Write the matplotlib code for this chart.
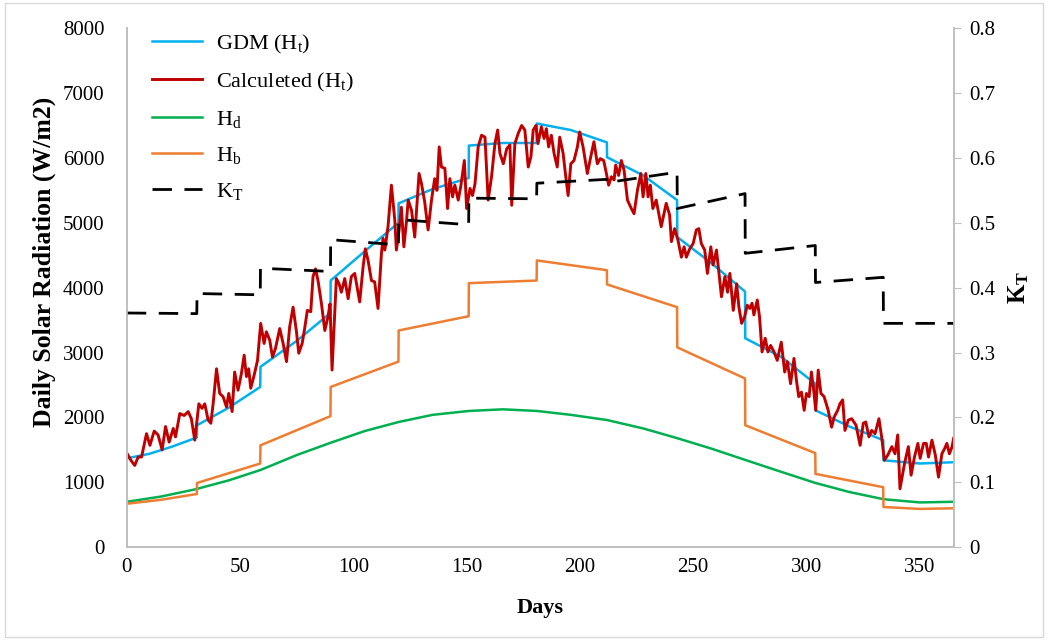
import matplotlib
matplotlib.use("Agg")
import matplotlib.pyplot as plt
from matplotlib.patches import Rectangle

plt.rcParams['font.family'] = ['Liberation Serif', 'DejaVu Serif']
plt.rcParams['mathtext.fontset'] = 'custom'
plt.rcParams['mathtext.rm'] = 'Liberation Serif'
plt.rcParams['mathtext.it'] = 'Liberation Serif:italic'
plt.rcParams['mathtext.bf'] = 'Liberation Serif:bold'

# GDM (Ht): monthly pieces (start, mid, end of each month)
gdm_days = [0, 10, 20, 30.9, 31, 45, 58.9, 59, 75, 89.9, 90, 105, 119.9, 120, 135, 150.9,
            151, 166, 180.9, 181, 196, 211.9, 212, 228, 242.9, 243, 258, 272.9, 273, 289, 303.9,
            304, 319, 333.9, 334, 350, 365]
gdm_vals = [1370, 1440, 1550, 1690, 1880, 2150, 2470, 2780, 3180, 3610, 4110, 4560, 5000, 5300, 5520, 5690,
            6190, 6230, 6230, 6530, 6430, 6240, 6010, 5730, 5350, 4780, 4380, 3940, 3220, 2930, 2520,
            2110, 1860, 1650, 1340, 1290, 1310]

# Calculated (Ht)
calc_days = [0, 1.8, 3.5, 5, 6.5, 8.7, 10.2, 12.1, 13.8, 15.6, 17.1, 18.7, 20.5, 21.5, 23.4, 25.3, 27.1,
             28.5, 30, 31.8, 33.2, 34.4, 35.9, 37.1, 38.1, 39.6, 41, 42.5, 44, 45, 46.5, 47.6, 49.1,
             50.6, 51.8, 52.8, 53.8, 54.7, 56.2, 57.7, 59.1, 60.6, 61.6, 63.1, 64.3, 65.6, 67.5, 69,
             70.5, 71.9, 73.4, 74.9, 75.9, 77.4, 78.5, 79.7, 81.2, 82.2, 83.3, 84.4, 85.9, 87.4, 88.8,
             89.7, 90.6, 92.5, 93.7, 94.7, 96.2, 97.7, 99.1, 100.6, 101.4, 102.8, 104.3, 105.3, 106.5,
             108, 109.4, 110.9, 112.4, 113.1, 113.9, 115.3, 116.8, 118.3, 119, 120.2, 121.2, 122.3,
             123.5, 124.2, 125.7, 127.1, 128.3, 129, 130.1, 131.5, 133, 134.5, 135.9, 136.9, 137.9,
             138.9, 140.4, 141.6, 142.6, 143.8, 144.8, 146.3, 147.5, 149, 150, 151.5, 152.6, 153.7,
             155.1, 156.6, 158.1, 159.5, 161, 162.5, 163.7, 164.7, 166.2, 167.7, 169.1, 169.9, 171.3,
             172.8, 174.3, 175.7, 177.2, 178.4, 179.4, 180.6, 181.5, 183, 184.2, 185.2, 186.2, 187.4,
             188.6, 190, 191.1, 192.6, 193.6, 194.8, 196, 197.4, 198.9, 199.9, 201.4, 203.3, 205.1,
             206.2, 207.7, 209, 210.5, 211.7, 212.7, 213.9, 215.1, 215.8, 217.1, 218.3, 219.5, 221,
             222.7, 223.9, 225.4, 226.9, 227.9, 229.1, 230.1, 231.1, 232.2, 233.7, 235.9, 238.1,
             239.6, 240.4, 241.8, 243.3, 244.8, 246, 247, 248.5, 250, 251.4, 252.5, 253.6, 255.1,
             256.3, 257.8, 258.8, 260.3, 261, 262.5, 264, 265.2, 266.2, 267.7, 269.2, 270.2, 271.4,
             272.7, 273.9, 275, 276, 276.8, 278.3, 279.3, 280.4, 281.8, 283, 284.2, 285.7, 287.1,
             288.9, 290.4, 291.6, 293, 294.5, 295.6, 296.6, 297.8, 299, 300, 301.2, 302.2, 303.2,
             304.1, 305.2, 306.4, 307.8, 309.6, 311.1, 312.3, 313.8, 314.8, 316, 317, 318.5, 320,
             321.9, 323.7, 325.1, 326.2, 327.6, 328.8, 330.3, 332, 333.2, 334.4, 335.9, 337.7, 339.1,
             340.3, 341.3, 343.3, 345, 346.2, 347.7, 349.2, 350.2, 351.7, 352.9, 353.9, 355.4, 356.9,
             358.3, 359.8, 361, 362, 363.1, 364.3, 365]
calc_vals = [1450, 1340, 1260, 1390, 1390, 1750, 1570, 1790, 1730, 1500, 1860, 1620, 1830, 1700, 2060, 2030, 2090,
             1980, 1650, 2210, 2140, 2210, 1960, 1910, 2210, 2750, 2370, 2320, 2160, 2370, 2090, 2700, 2420,
             2680, 2960, 2630, 2750, 2450, 2650, 2880, 3450, 3140, 3320, 3190, 2930, 3060, 3370, 3140,
             2860, 3400, 3700, 3320, 2990, 3140, 3370, 3650, 3630, 4170, 4290, 4110, 3760, 3340, 3550,
             3750, 2730, 4140, 4060, 3930, 4140, 3830, 4170, 4220, 4060, 3780, 4320, 4600, 4420,
             4110, 4090, 3680, 4530, 4760, 4580, 4940, 5580, 5040, 4580, 4890, 5240, 4630,
             5040, 5350, 5190, 4780, 5400, 5760, 5600, 5320, 4890, 5350, 5680, 5500, 6170,
             5860, 5840, 5220, 5680, 5400, 5580, 5350, 5580, 5960, 5220, 5530, 5420, 5600,
             6170, 6350, 6320, 5350, 5710, 6220, 6430, 6070, 5910, 6140, 6200, 5270, 6220,
             6380, 6500, 6430, 5860, 6020, 6430, 6500, 6220, 6480, 6300, 6450, 6170, 6350,
             6070, 5860, 6320, 6070, 5760, 5420, 5910, 5960, 6170, 6400, 6170, 5760, 6070,
             6250, 5910, 5990, 5960, 5760, 5580, 5710, 5660, 5890, 5730, 5960, 5810, 5350,
             5220, 5140, 5500, 5760, 5400, 5760, 5400, 5580, 5220, 5350, 4940, 5300,
             5120, 4710, 4910, 4730, 4470, 4630, 4470, 4600, 4680, 4890, 4910, 4680, 4580,
             4220, 4630, 4350, 4580, 4350, 3860, 4170, 3930, 4220, 3650, 4060, 3700, 3450,
             3550, 3730, 3680, 3760, 3580, 3810, 3550, 3010, 3220, 3010, 3110, 3010, 2880,
             3160, 2700, 2860, 2520, 2910, 2570, 2320, 2390, 2110, 2370, 2320, 2700, 2420,
             2110, 2730, 2370, 2320, 2110, 1850, 2010, 2110, 2210, 2270, 1800, 1960, 1980,
             1880, 1570, 1910, 1930, 1700, 1800, 1750, 1980, 1700, 1340, 1420, 1550, 1440,
             1730, 900, 1290, 1550, 1110, 1390, 1600, 1370, 1600, 1600, 1390, 1650, 1420,
             1080, 1440, 1520, 1600, 1440, 1550, 1680]

# Hd: smooth curve
hd_days = [0, 15, 30, 45, 59, 75, 90, 105, 120, 135, 151, 166, 181, 196, 212, 228, 243, 258, 273,
           289, 304, 319, 334, 350, 365]
hd_vals = [700, 780, 890, 1030, 1190, 1420, 1610, 1790, 1930, 2040, 2100, 2125, 2100, 2040, 1960, 1830,
           1680, 1520, 1345, 1160, 990, 850, 740, 690, 700]

# Hb: monthly pieces
hb_days = [0, 15, 30.9, 31, 58.9, 59, 89.9, 90, 119.9, 120, 150.9, 151, 180.9, 181, 211.9,
           212, 242.9, 243, 272.9, 273, 303.9, 304, 333.9, 334, 350, 365]
hb_vals = [670, 730, 820, 990, 1290, 1570, 2020, 2470, 2860, 3340, 3560, 4070, 4110, 4420, 4270,
           4050, 3700, 3080, 2600, 1880, 1450, 1130, 925, 620, 590, 600]

# KT: monthly clearness index (start and end of each month)
kt_days = [0, 30.9, 31, 58.9, 59, 89.9, 90, 119.9, 120, 150.9, 151, 180.9, 181, 211.9,
           212, 242.9, 243, 272.9, 273, 303.9, 304, 333.9, 334, 365]
kt_vals = [0.361, 0.360, 0.391, 0.389, 0.430, 0.425, 0.474, 0.466, 0.505, 0.497, 0.538, 0.537,
           0.561, 0.567, 0.562, 0.578, 0.522, 0.545, 0.453, 0.465, 0.408, 0.416, 0.345, 0.345]

fig = plt.figure(figsize=(10.48, 6.4), dpi=100)
fig.patches.append(Rectangle((0.005, 0.005), 0.99, 0.99, transform=fig.transFigure,
                             fill=False, edgecolor='#d9d9d9', linewidth=1))
ax = fig.add_axes([0.121, 0.145, 0.789, 0.811])
ax2 = ax.twinx()

l1, = ax.plot(gdm_days, gdm_vals, color='#00B0F0', lw=1.8, label='GDM (H$_\\mathrm{t}$)')
l2, = ax.plot(calc_days, calc_vals, color='#C00000', lw=2.1, label='Calculeted (H$_\\mathrm{t}$)')
l3, = ax.plot(hd_days, hd_vals, color='#00B050', lw=1.8, label='H$_\\mathrm{d}$')
l4, = ax.plot(hb_days, hb_vals, color='#ED7D31', lw=1.8, label='H$_\\mathrm{b}$')
l5, = ax2.plot(kt_days, kt_vals, color='black', lw=2.0, linestyle=(0, (7, 4.5)), label='K$_\\mathrm{T}$')

ax.set_xlim(0, 365)
ax.set_ylim(0, 8000)
ax2.set_ylim(0, 0.8)
ax.set_xticks(range(0, 351, 50))
ax.set_yticks(range(0, 8001, 1000))
ax2.set_yticks([0, 0.1, 0.2, 0.3, 0.4, 0.5, 0.6, 0.7, 0.8])
ax2.set_yticklabels(['0', '0.1', '0.2', '0.3', '0.4', '0.5', '0.6', '0.7', '0.8'])

for a in (ax, ax2):
    a.spines['top'].set_visible(False)
    for s in ('left', 'right', 'bottom'):
        a.spines[s].set_color('#bfbfbf')
        a.spines[s].set_linewidth(1.2)
ax.tick_params(axis='y', length=0, labelsize=15, pad=16)
ax.tick_params(axis='x', length=0, labelsize=15, pad=8)
ax2.tick_params(axis='y', length=5, color='#bfbfbf', labelsize=15, pad=6)

ax.set_xlabel('Days', fontsize=16, fontweight='bold', labelpad=15)
ax.set_ylabel('Daily Solar Radiation (W/m2)', fontsize=18.5, fontweight='bold')
ax.yaxis.set_label_coords(-0.086, 0.55)
ax2.set_ylabel('K$_\\mathbf{T}$', fontsize=18, fontweight='bold', labelpad=8)

ax.legend(handles=[l1, l2, l3, l4, l5], loc='upper left', bbox_to_anchor=(0.006, 1.03),
          frameon=False, fontsize=16, handlelength=2.25, handletextpad=0.65, labelspacing=0.68)

fig.savefig('out.png', dpi=100)
